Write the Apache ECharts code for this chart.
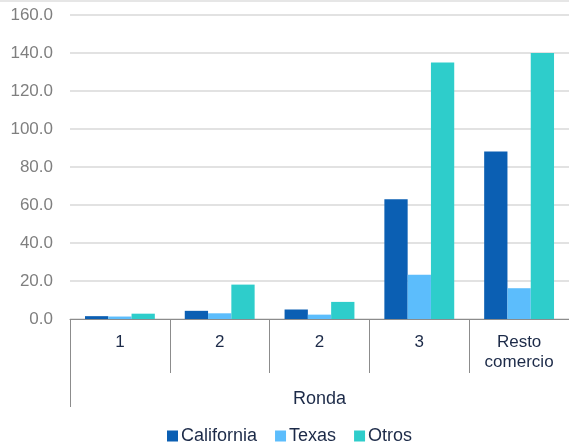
<!DOCTYPE html>
<html>
<head>
<meta charset="utf-8">
<script src="https://cdn.jsdelivr.net/npm/echarts@6/dist/echarts.min.js"></script>
<style>
  html, body { margin: 0; padding: 0; background: #fff; }
  #chart { width: 569px; height: 446px; }
</style>
</head>
<body>
<div id="chart"></div>
<script>
// Categories along the round axis
const categories = ['1', '2', '2', '3', 'Resto\ncomercio'];
const groupLabel = ['Ronda'];

// Series values
const california = [1.5, 4.3, 5.0, 63.0, 88.2];
const texas = [1.3, 3.0, 2.3, 23.3, 16.2];
const otros = [2.8, 18.1, 9.0, 135.0, 140.0];

const seriesNames = ['California', 'Texas', 'Otros'];
const colors = ['#0b5fb3', '#5cbdfc', '#2ecdcb'];

const chart = echarts.init(document.getElementById('chart'), null, { renderer: 'canvas' });

const labelFont = 'Liberation Sans, Arial, sans-serif';
const darkText = '#1c2a48';

chart.setOption({
  animation: false,
  color: colors,
  graphic: [{
    type: 'rect',
    shape: { x: 0, y: 0, width: 569, height: 2 },
    style: { fill: '#e6e6e6' },
    silent: true
  }],
  grid: { left: 70, right: 0, top: 15, bottom: 127, containLabel: false },
  legend: {
    left: 167,
    bottom: 1,
    padding: 0,
    itemWidth: 11,
    itemHeight: 11,
    itemGap: 18,
    icon: 'rect',
    textStyle: { fontFamily: labelFont, fontSize: 18, color: darkText, padding: [0, 0, 0, -2] },
    data: seriesNames
  },
  xAxis: [{
    type: 'category',
    data: categories,
    position: 'bottom',
    axisLine: { show: true, lineStyle: { color: '#8c8c8c', width: 1 } },
    axisTick: { show: true, interval: 0, length: 54, alignWithLabel: false, lineStyle: { color: '#8c8c8c' } },
    axisLabel: { interval: 0, margin: 13, fontFamily: labelFont, fontSize: 17, color: darkText, lineHeight: 20 },
    splitLine: { show: false }
  }, {
    type: 'category',
    data: groupLabel,
    position: 'bottom',
    offset: 54,
    axisLine: { show: false },
    axisTick: { show: true, interval: 0, length: 34, lineStyle: { color: '#8c8c8c' } },
    axisLabel: { interval: 0, margin: 17, fontFamily: labelFont, fontSize: 18, color: darkText }
  }],
  yAxis: {
    type: 'value',
    min: 0,
    max: 160,
    interval: 20,
    axisLine: { show: false },
    axisTick: { show: false },
    axisLabel: {
      margin: 17,
      fontFamily: labelFont,
      fontSize: 17,
      color: '#7f7f7f',
      formatter: v => v.toFixed(1)
    },
    splitLine: { lineStyle: { color: '#d9d9d9', width: 1.5 } }
  },
  series: [
    { name: seriesNames[0], type: 'bar', data: california, barGap: '0%', barCategoryGap: '30%' },
    { name: seriesNames[1], type: 'bar', data: texas, barGap: '0%', barCategoryGap: '30%' },
    { name: seriesNames[2], type: 'bar', data: otros, barGap: '0%', barCategoryGap: '30%' }
  ]
});
</script>
</body>
</html>
